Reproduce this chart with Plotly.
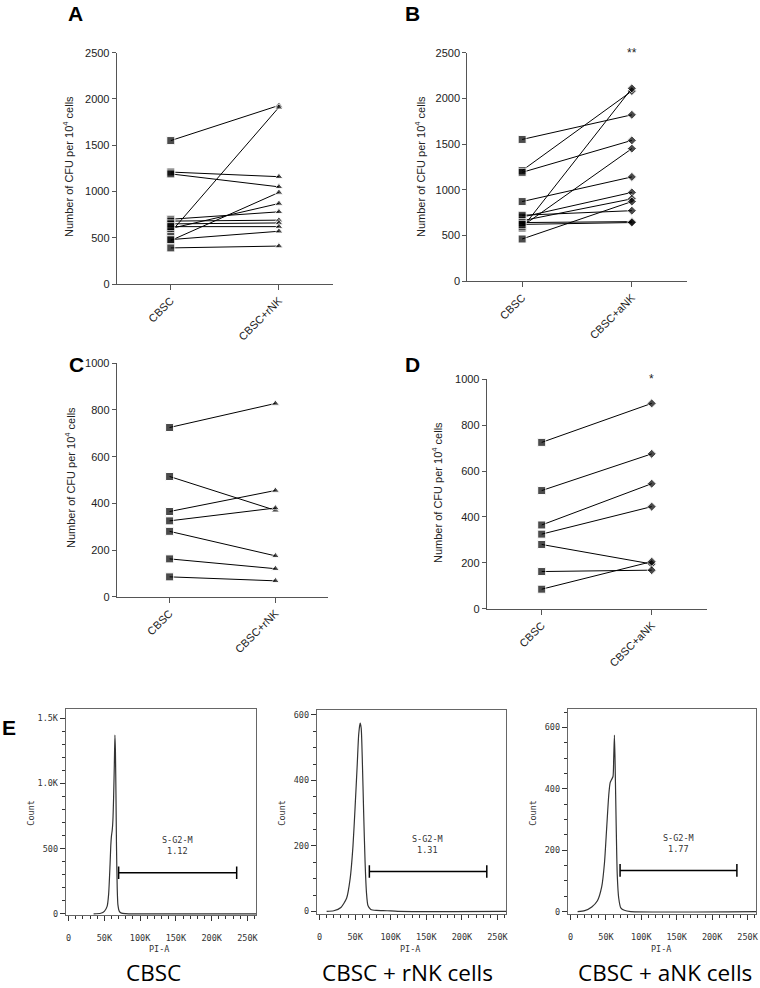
import plotly.graph_objects as go

W, H = 760, 988

# CFU counts, panels A-D (each pair = one sample)
cbsc_a = [1550, 1210, 1190, 560, 470, 600, 700, 680, 650, 620, 480, 390]
rnk_a = [1930, 1160, 1050, 1910, 990, 870, 780, 690, 660, 620, 570, 410]

cbsc_b = [1550, 1210, 1190, 870, 580, 600, 700, 660, 460, 720, 640, 620]
ank_b = [1820, 2080, 1540, 1140, 2110, 1450, 970, 900, 870, 770, 650, 640]

cbsc_c = [725, 515, 365, 325, 280, 162, 85]
rnk_c = [828, 370, 455, 380, 175, 120, 68]

cbsc_d = [725, 515, 365, 325, 280, 162, 85]
ank_d = [895, 675, 545, 445, 195, 168, 205]

# cell-cycle histograms, panel E (PI-A in thousands, count)
pi_cbsc = [35, 45, 50, 54, 56, 58, 59, 60, 61, 62, 63, 64, 64.8, 65.5, 66.3, 67, 68, 69, 71, 74, 80, 90, 262]
cnt_cbsc = [0, 5, 20, 60, 150, 380, 520, 600, 640, 720, 900, 1150, 1370, 1250, 900, 520, 200, 70, 20, 6, 2, 0, 0]

pi_rnk = [10, 20, 30, 38, 43, 47, 50, 53, 55, 57, 58.5, 60, 62, 64, 66, 68, 72, 80, 95, 110, 262]
cnt_rnk = [0, 2, 12, 40, 100, 200, 320, 450, 540, 575, 560, 470, 300, 150, 55, 18, 6, 3, 2, 0, 0]

pi_ank = [10, 20, 30, 38, 44, 48, 51, 54, 56, 58, 60, 61, 62, 63, 64.5, 66, 68, 71, 76, 85, 262]
cnt_ank = [0, 3, 15, 35, 80, 160, 270, 380, 420, 430, 440, 500, 575, 480, 280, 120, 45, 12, 4, 0, 0]

gate_lo, gate_hi = 70, 235
gate_y = [316, 122, 134]
gate_pct = ["1.12", "1.31", "1.77"]
hist_ymax = [1570, 615, 660]
hist_titles = ["CBSC", "CBSC + rNK cells", "CBSC + aNK cells"]

AX = "#555555"
FONT = "Liberation Sans"
MONO = "DejaVu Sans Mono"


def dom_x(a, b):
    return [a / W, b / W]


def dom_y(top, bottom):
    return [1 - bottom / H, 1 - top / H]


def paper_text(text, px, py, size, family=FONT, angle=0, color="black"):
    return dict(text=text, x=px / W, y=1 - py / H, xref="paper", yref="paper",
                xanchor="center", yanchor="middle", showarrow=False, textangle=angle,
                font=dict(family=family, size=size, color=color))


fig = go.Figure()

panels = [
    # name, before, after, after label, symbol, x-px, y-px, ymax, dtick, star
    ("A", cbsc_a, rnk_a, "CBSC+rNK", "triangle-up", (116.7, 333), (52.7, 284), 2500, 500, ""),
    ("B", cbsc_b, ank_b, "CBSC+aNK", "diamond", (467.3, 686.7), (52.7, 281), 2500, 500, "**"),
    ("C", cbsc_c, rnk_c, "CBSC+rNK", "triangle-up", (116.7, 328.3), (363.3, 596.7), 1000, 200, ""),
    ("D", cbsc_d, ank_d, "CBSC+aNK", "diamond", (486.7, 706.7), (379.3, 608.7), 1000, 200, "*"),
]

layout = {}
ann = []
letter_pos = {"A": (75, 14), "B": (412, 14), "C": (76, 365), "D": (412, 365)}
ytitle_pos = {"A": (68, 167), "B": (420, 167), "C": (70, 478), "D": (437, 492)}

for i, (name, before, after, lab, sym, xp, yp, ymax, dt, star) in enumerate(panels):
    k = i + 1
    xa, ya = f"x{k}", f"y{k}"
    cats = ["CBSC", lab]
    for b, a in zip(before, after):
        fig.add_trace(go.Scatter(
            x=cats, y=[b, a], xaxis=xa, yaxis=ya, mode="lines+markers",
            line=dict(color="black", width=1),
            marker=dict(symbol=["square", sym], size=[8, 7], color="black"),
            showlegend=False, hoverinfo="skip", cliponaxis=False))
    layout[f"xaxis{k}"] = dict(
        domain=dom_x(*xp), anchor=ya, type="category", range=[-0.5, 1.5],
        showline=True, linecolor=AX, linewidth=1, ticks="outside", ticklen=5,
        tickcolor=AX, tickangle=-45, showgrid=False, zeroline=False, automargin=False,
        tickfont=dict(family=FONT, size=11, color="#222"))
    layout[f"yaxis{k}"] = dict(
        domain=dom_y(*yp), anchor=xa, range=[0, ymax], dtick=dt,
        showline=True, linecolor=AX, linewidth=1, ticks="outside", ticklen=4,
        tickcolor=AX, showgrid=False, zeroline=False, automargin=False,
        tickfont=dict(family=FONT, size=11, color="#222"))
    lx, ly = letter_pos[name]
    ann.append(paper_text(f"<b>{name}</b>", lx, ly, 21))
    tx, ty = ytitle_pos[name]
    ann.append(paper_text("Number of CFU per 10<sup>4</sup> cells", tx, ty, 11, angle=-90, color="#222"))
    if star:
        ann.append(dict(text=star, x=lab, y=ymax, xref=xa, yref=ya, showarrow=False,
                        xanchor="center", yanchor="middle",
                        font=dict(family=FONT, size=12, color="#222")))

# panel E histograms
hists = [(pi_cbsc, cnt_cbsc), (pi_rnk, cnt_rnk), (pi_ank, cnt_ank)]
hx = [(65.7, 256), (316.7, 506), (567.7, 756)]
hy = [(709, 915), (710, 914), (709, 914)]
hticks = [([0, 500, 1000, 1500], ["0", "500", "1.0K", "1.5K"]),
          ([0, 200, 400, 600], ["0", "200", "400", "600"]),
          ([0, 200, 400, 600], ["0", "200", "400", "600"])]
hminor = [100, 50, 50]

for j, (px, cnt) in enumerate(hists):
    k = 5 + j
    xa, ya = f"x{k}", f"y{k}"
    fig.add_trace(go.Scatter(x=px, y=cnt, xaxis=xa, yaxis=ya, mode="lines",
                             line=dict(color="#333", width=1.2, shape="spline", smoothing=0.6),
                             showlegend=False, hoverinfo="skip"))
    fig.add_trace(go.Scatter(x=[gate_lo, gate_hi], y=[gate_y[j]] * 2, xaxis=xa, yaxis=ya,
                             mode="lines+markers", line=dict(color="black", width=1.5),
                             marker=dict(symbol="line-ns-open", size=9, line=dict(width=1.5, color="black")),
                             showlegend=False, hoverinfo="skip"))
    tv, tt = hticks[j]
    layout[f"xaxis{k}"] = dict(
        domain=dom_x(*hx[j]), anchor=ya, range=[-4, 262],
        tickvals=[0, 50, 100, 150, 200, 250], ticktext=["0", "50K", "100K", "150K", "200K", "250K"],
        showline=True, mirror=True, linecolor="#666", linewidth=1, ticks="outside", ticklen=5,
        tickcolor="#333", minor=dict(dtick=10, ticks="outside", ticklen=3, tickcolor="#333"),
        showgrid=False, zeroline=False, ticklabelstandoff=10, automargin=False,
        tickfont=dict(family=MONO, size=8.5, color="#333"))
    layout[f"yaxis{k}"] = dict(
        domain=dom_y(*hy[j]), anchor=xa, range=[-8, hist_ymax[j]],
        tickvals=tv, ticktext=tt,
        showline=True, mirror=True, linecolor="#666", linewidth=1, ticks="outside", ticklen=5,
        tickcolor="#333", minor=dict(dtick=hminor[j], ticks="outside", ticklen=3, tickcolor="#333"),
        showgrid=False, zeroline=False, automargin=False,
        tickfont=dict(family=MONO, size=8.5, color="#333"))
    ann.append(dict(text=f"S-G2-M<br>{gate_pct[j]}", x=152, y=gate_y[j] + 0.07 * hist_ymax[j],
                    xref=xa, yref=ya, showarrow=False, xanchor="center", yanchor="bottom",
                    font=dict(family=MONO, size=8.5, color="#333")))
    ann.append(paper_text("Count", hx[j][0] - 35, 813, 8.5, family=MONO, angle=-90, color="#333"))
    ann.append(paper_text("PI-A", hx[j][0] + 93, 949, 8.5, family=MONO, color="#333"))
    ann.append(paper_text(hist_titles[j], [153, 407, 665][j], 972, 22.5, family="Open Sans"))

ann.append(paper_text("<b>E</b>", 9, 727, 21))

fig.update_layout(width=W, height=H, margin=dict(l=0, r=0, t=0, b=0),
                  paper_bgcolor="white", plot_bgcolor="white",
                  annotations=ann, **layout)

# drop the page's default body margin so the figure sits at the window corner
fig.write_html("out.html", config={"displayModeBar": False},
               post_script="document.body.style.margin='0px';")
